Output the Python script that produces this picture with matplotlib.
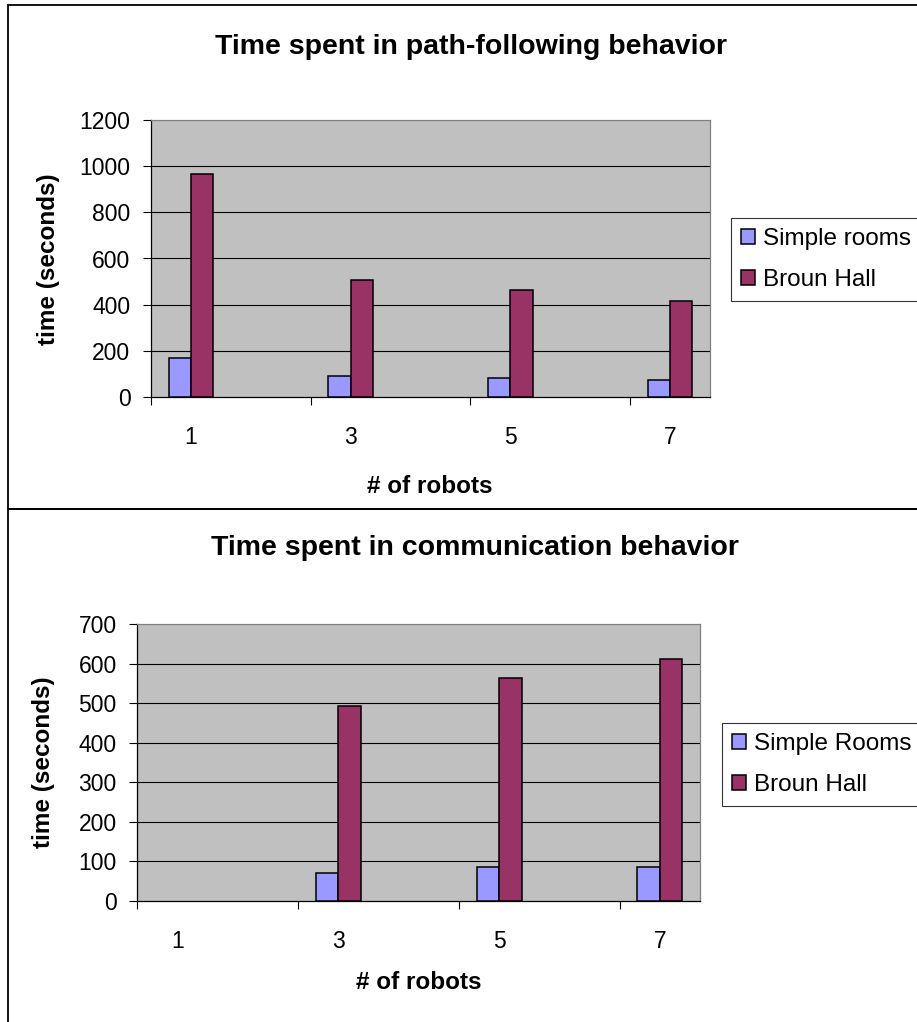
import matplotlib
matplotlib.use("Agg")
import matplotlib.pyplot as plt
from matplotlib.patches import Rectangle
import numpy as np

plt.rcParams["font.family"] = ["Liberation Sans", "DejaVu Sans"]

# data
robots = ["1", "3", "5", "7"]
path_simple = [168, 91, 84, 74]
path_broun = [965, 507, 464, 415]
comm_simple = [0, 72, 87, 87]
comm_broun = [0, 494, 563, 612]

W, H = 917, 1022
fig = plt.figure(figsize=(W / 100, H / 100), dpi=100)

SIMPLE_C = "#9999ff"
BROUN_C = "#993366"
PLOT_BG = "#c0c0c0"


def px_axes(l, t, r, b):
    # pixel box -> figure fraction
    return fig.add_axes([l / W, 1 - b / H, (r - l) / W, (b - t) / H])


def draw_chart(ax, simple, broun, ymax, ystep, labels, legend_xy):
    x = np.arange(len(robots)) + 0.25
    w = 0.14
    # empty bars get no outline
    b1 = ax.bar(x - w / 2, simple, w, color=SIMPLE_C, edgecolor="black",
                linewidth=[1.1 if v > 0 else 0 for v in simple], zorder=3)
    b2 = ax.bar(x + w / 2, broun, w, color=BROUN_C, edgecolor="black",
                linewidth=[1.1 if v > 0 else 0 for v in broun], zorder=3)

    ax.set_facecolor(PLOT_BG)
    ax.set_xlim(0, 3.5)
    ax.set_ylim(0, ymax)
    yt = np.arange(0, ymax + 1, ystep)
    ax.set_yticks(yt)
    for y in yt[1:-1]:
        ax.axhline(y, color="black", lw=0.8, zorder=1)

    ax.set_xticks([0, 1, 2, 3])
    ax.set_xticklabels([])
    ax.set_xticks(x, minor=True)
    ax.set_xticklabels(robots, minor=True)
    ax.tick_params(axis="x", which="major", direction="out", length=5.8,
                   width=0.8)
    ax.tick_params(axis="x", which="minor", length=0, pad=21, labelsize=16.5)
    ax.tick_params(axis="y", direction="out", length=5.8, width=0.8, pad=9,
                   labelsize=16.5)

    for s in ("left", "bottom"):
        ax.spines[s].set_color("black")
        ax.spines[s].set_linewidth(0.9)
    for s in ("top", "right"):
        ax.spines[s].set_color("#808080")
        ax.spines[s].set_linewidth(0.9)

    proxies = [Rectangle((0, 0), 1, 1, facecolor=c, edgecolor="black",
                         linewidth=1.1) for c in (SIMPLE_C, BROUN_C)]
    leg = ax.legend(proxies, labels, loc="upper left",
                    bbox_to_anchor=(legend_xy[0] / W, 1 - legend_xy[1] / H),
                    bbox_transform=fig.transFigure, fancybox=False,
                    edgecolor="black", fontsize=17.5, handlelength=0.58,
                    handleheight=0.58, handletextpad=0.35, borderpad=0.4,
                    labelspacing=0.8, borderaxespad=0)
    leg.get_frame().set_linewidth(0.8)


# top: path-following
ax1 = px_axes(151, 120, 710, 397)
draw_chart(ax1, path_simple, path_broun, 1200, 200,
           ["Simple rooms", "Broun Hall"], (731, 218))
fig.text(471 / W, 1 - 47 / H, "Time spent in path-following behavior",
         ha="center", va="center", fontsize=20.5, fontweight="bold")
fig.text(49 / W, 1 - 259 / H, "time (seconds)", rotation=90,
         ha="center", va="center", fontsize=17.5, fontweight="bold")
fig.text(430 / W, 1 - 486 / H, "# of robots",
         ha="center", va="center", fontsize=17.5, fontweight="bold")

# bottom: communication
ax2 = px_axes(137.3, 624.3, 700, 901)
draw_chart(ax2, comm_simple, comm_broun, 700, 100,
           ["Simple Rooms", "Broun Hall"], (722, 723))
fig.text(475 / W, 1 - 548 / H, "Time spent in communication behavior",
         ha="center", va="center", fontsize=20.5, fontweight="bold")
fig.text(44 / W, 1 - 762 / H, "time (seconds)", rotation=90,
         ha="center", va="center", fontsize=17.5, fontweight="bold")
fig.text(419 / W, 1 - 982 / H, "# of robots",
         ha="center", va="center", fontsize=17.5, fontweight="bold")

# chart frames
for y0, y1 in ((509, 5), (1100, 509)):
    fig.patches.append(Rectangle((8 / W, 1 - y0 / H), 1.2, (y0 - y1) / H,
                                 transform=fig.transFigure, fill=False,
                                 edgecolor="black", linewidth=1.3))

fig.savefig("out.png", dpi=100)
